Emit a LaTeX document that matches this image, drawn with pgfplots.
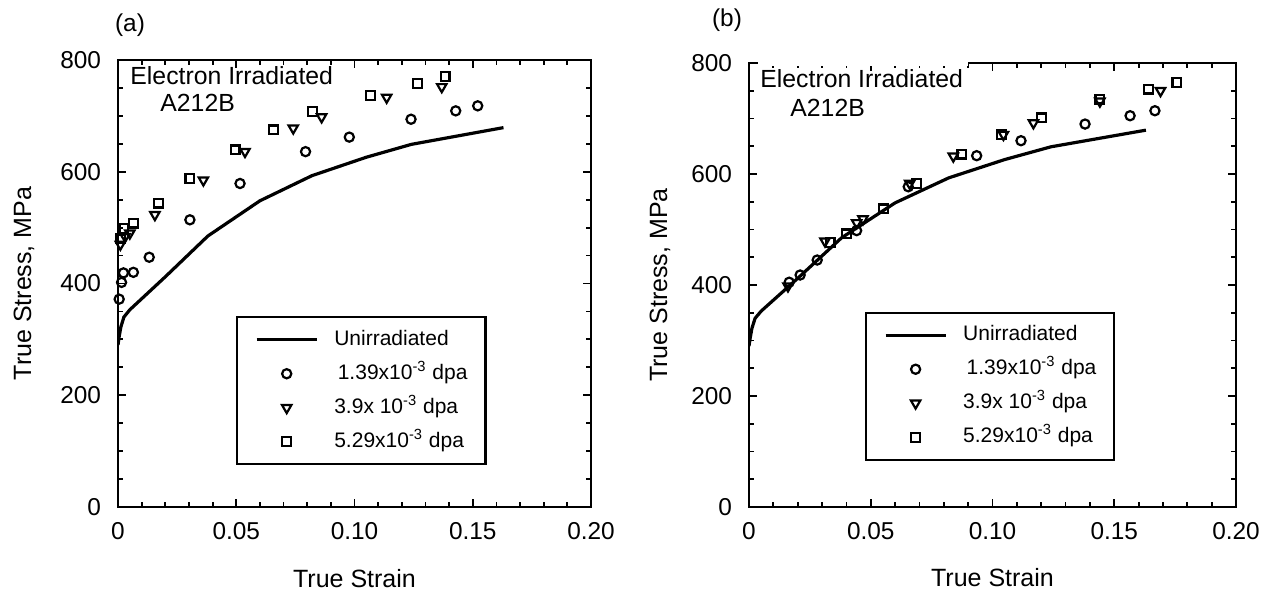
\documentclass[border=0pt]{standalone}
\usepackage{fontspec}
\setmainfont{Liberation Sans}
\usepackage{pgfplots}
\pgfplotsset{compat=1.18}

\pgfplotstableread{
x y
0 290
0.0005 305
0.0012 322
0.0025 340
0.005 353
0.02 412
0.038 485
0.06 548
0.082 593
0.105 626
0.124 649
0.163 679
}\unirr

\pgfplotstableread{
x y
0.0005 372
0.0015 402
0.0023 419
0.0065 420
0.0132 447
0.0304 514
0.0516 579
0.0793 636
0.0978 662
0.1239 694
0.1428 709
0.1521 718
}\acirc
\pgfplotstableread{
x y
0.001 470
0.003 484
0.005 490
0.0156 523
0.0361 585
0.0537 636
0.0741 678
0.0861 698
0.1136 733
0.1369 752
}\atri
\pgfplotstableread{
x y
0.001 480
0.0025 498
0.0065 508
0.017 544
0.0304 588
0.0495 639
0.0657 675
0.0823 708
0.1068 736
0.1266 758
0.1383 770
}\asq

\pgfplotstableread{
x y
0.0165 405
0.021 418
0.028 445
0.0442 498
0.0654 577
0.0935 633
0.1117 660
0.138 690
0.1565 705
0.1667 714
}\bcirc
\pgfplotstableread{
x y
0.016 398
0.0312 479
0.0442 512
0.0468 519
0.066 583
0.0839 632
0.1045 671
0.1168 692
0.1441 731
0.169 750
}\btri
\pgfplotstableread{
x y
0.0333 477
0.0401 492
0.0552 537
0.0689 583
0.0874 636
0.1038 671
0.1202 701
0.1441 735
0.164 753
0.1757 765
}\bsq

\pgfplotsset{
  panel/.style={
    scale only axis,
    xmin=0, xmax=0.2, ymin=0, ymax=800,
    xtick={0,0.05,0.10,0.15,0.20},
    xticklabels={0,0.05,0.10,0.15,0.20},
    ytick={0,200,400,600,800},
    yticklabels={0,200,400,600,800},
    minor x tick num=4, minor y tick num=3,
    tick align=inside,
    major tick length=4bp, minor tick length=2.5bp,
    axis line style={line width=1.4bp},
    every tick/.style={black, line width=0.9bp},
    tick label style={font=\fontsize{12.2bp}{14bp}\selectfont},
    xticklabel style={yshift=-4bp},
    yticklabel style={xshift=-5bp},
    label style={font=\fontsize{12.5bp}{15bp}\selectfont},
    xlabel={True Strain},
    ylabel={True Stress, MPa},
    legend cell align=left,
    legend image code/.code={\draw[mark repeat=2,mark phase=2,##1] plot coordinates {(0bp,0bp) (15bp,0bp) (30bp,0bp)};},
    legend style={anchor=north west, draw=black, line width=1.1bp,
      font=\fontsize{10.5bp}{12bp}\selectfont,
      inner xsep=9bp, inner ysep=6bp, row sep=6.5bp, column sep=8bp,
      nodes={inner sep=0bp, text height=8bp, text depth=2.5bp}},
  },
  curve/.style={black, line width=1.6bp, mark=none},
  circ/.style={black, only marks, mark=o, mark size=2.3bp, line width=1.1bp},
  tri/.style={black, only marks, mark=triangle, mark size=2.7bp, mark options={rotate=180}, line width=1.1bp},
  sq/.style={black, only marks, mark=square, mark size=2.2bp, line width=1.1bp},
}

\begin{document}
\begin{tikzpicture}
\useasboundingbox (0,0) rectangle (634bp,296.5bp);

\begin{axis}[panel, name=a, at={(59bp,43bp)}, anchor=south west,
  width=236.5bp, height=223.5bp,
  xlabel style={anchor=center, at={(axis description cs:0.5,-0.159)}},
  ylabel style={anchor=center, at={(axis description cs:-0.199,0.5)}},
  legend style={at={(0.2495,0.427)}}]
\addplot[curve] table[x=x,y=y] {\unirr};
\addlegendentry{Unirradiated}
\addplot[circ] table[x=x,y=y] {\acirc};
\addlegendentry{\,1.39x10\textsuperscript{-3} dpa}
\addplot[tri] table[x=x,y=y] {\atri};
\addlegendentry{3.9x 10\textsuperscript{-3} dpa}
\addplot[sq] table[x=x,y=y] {\asq};
\addlegendentry{5.29x10\textsuperscript{-3} dpa}
\node[anchor=west, inner sep=0pt, font=\fontsize{12.4bp}{14bp}\selectfont] at (rel axis cs:0.0254,0.966) {Electron Irradiated};
\node[anchor=west, inner sep=0pt, font=\fontsize{12.4bp}{14bp}\selectfont] at (rel axis cs:0.0888,0.904) {A212B};
\end{axis}

\begin{axis}[panel, name=b, at={(374.5bp,43bp)}, anchor=south west,
  width=243.5bp, height=222bp,
  xlabel style={anchor=center, at={(axis description cs:0.5,-0.16)}},
  ylabel style={anchor=center, at={(axis description cs:-0.183,0.5)}},
  legend style={at={(0.238,0.44)}}]
\addplot[curve] table[x=x,y=y] {\unirr};
\addlegendentry{Unirradiated}
\addplot[circ] table[x=x,y=y] {\bcirc};
\addlegendentry{\,1.39x10\textsuperscript{-3} dpa}
\addplot[tri] table[x=x,y=y] {\btri};
\addlegendentry{3.9x 10\textsuperscript{-3} dpa}
\addplot[sq] table[x=x,y=y] {\bsq};
\addlegendentry{5.29x10\textsuperscript{-3} dpa}
\end{axis}

\fill[white] ([xshift=4.5bp,yshift=-1.6bp]b.north west) rectangle ([xshift=109.5bp,yshift=1.6bp]b.north west);
\node[anchor=west, inner sep=0pt, font=\fontsize{12.4bp}{14bp}\selectfont] at ([xshift=5.5bp,yshift=-8bp]b.north west) {Electron Irradiated};
\node[anchor=west, inner sep=0pt, font=\fontsize{12.4bp}{14bp}\selectfont] at ([xshift=20.5bp,yshift=-22.5bp]b.north west) {A212B};

\node[font=\fontsize{12.2bp}{14bp}\selectfont] at (65bp,284bp) {(a)};
\node[font=\fontsize{12.2bp}{14bp}\selectfont] at (363.5bp,286.5bp) {(b)};
\end{tikzpicture}
\end{document}
